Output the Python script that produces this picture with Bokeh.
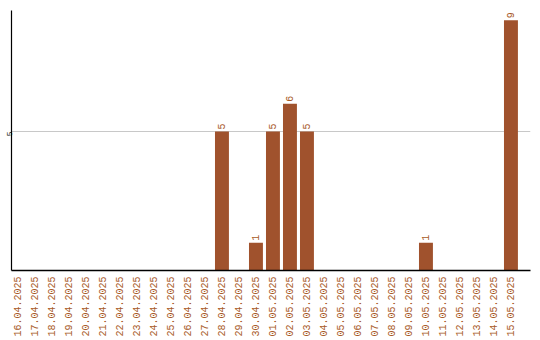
import math
from bokeh.plotting import figure
from bokeh.models import ColumnDataSource, Range1d, FixedTicker
from bokeh.core.properties import value
from bokeh.embed import file_html
from bokeh.resources import INLINE

dates = [
    "16.04.2025", "17.04.2025", "18.04.2025", "19.04.2025", "20.04.2025",
    "21.04.2025", "22.04.2025", "23.04.2025", "24.04.2025", "25.04.2025",
    "26.04.2025", "27.04.2025", "28.04.2025", "29.04.2025", "30.04.2025",
    "01.05.2025", "02.05.2025", "03.05.2025", "04.05.2025", "05.05.2025",
    "06.05.2025", "07.05.2025", "08.05.2025", "09.05.2025", "10.05.2025",
    "11.05.2025", "12.05.2025", "13.05.2025", "14.05.2025", "15.05.2025",
]
counts = [0, 0, 0, 0, 0, 0, 0, 0, 0, 0, 0, 0, 5, 0, 1,
          5, 6, 5, 0, 0, 0, 0, 0, 0, 1, 0, 0, 0, 0, 9]
y_ticks = [5]

BAR = "#a0522d"
LABEL = "#a85a28"
MONO = "Liberation Mono"

pos = list(range(len(dates)))
src = ColumnDataSource(dict(x=pos, top=counts))
nz = [i for i, c in enumerate(counts) if c > 0]
lbl = ColumnDataSource(dict(x=[pos[i] for i in nz],
                            y=[counts[i] for i in nz],
                            t=[str(counts[i]) for i in nz]))

p = figure(width=540, height=340, output_backend="svg", toolbar_location=None,
           x_range=Range1d(-0.38, 30.15), y_range=Range1d(0, 9.35),
           min_border_left=11, min_border_right=10, min_border_top=10,
           min_border_bottom=70)
p.frame_width = 519
p.frame_height = 260
p.outline_line_color = None
p.background_fill_color = "white"

p.vbar(x="x", top="top", width=0.82, source=src, fill_color=BAR,
       line_color=None)
p.text(x="x", y="y", text="t", source=lbl, angle=math.pi / 2,
       text_align="left", text_baseline="middle", y_offset=-2,
       text_color=LABEL, text_font=value(MONO), text_font_size="10px")

p.xgrid.grid_line_color = None
p.ygrid.ticker = FixedTicker(ticks=y_ticks)
p.ygrid.grid_line_color = "#c8c8c8"

xa = p.xaxis[0]
xa.ticker = FixedTicker(ticks=pos)
xa.major_label_overrides = {i: d for i, d in zip(pos, dates)}
xa.major_label_orientation = math.pi / 2
xa.major_label_text_color = LABEL
xa.major_label_text_font = MONO
xa.major_label_text_font_size = "10px"
xa.major_label_standoff = 6
xa.major_tick_out = 0
xa.major_tick_in = 0
xa.minor_tick_out = 0
xa.minor_tick_in = 0
xa.axis_line_color = "black"
xa.axis_line_width = 1.5

ya = p.yaxis[0]
ya.ticker = FixedTicker(ticks=y_ticks)
ya.major_label_orientation = math.pi / 2
ya.major_label_text_font = MONO
ya.major_label_text_font_size = "8px"
ya.major_label_text_color = "black"
ya.major_label_standoff = 2
ya.major_tick_out = 0
ya.major_tick_in = 0
ya.minor_tick_out = 0
ya.minor_tick_in = 0
ya.axis_line_color = "black"
ya.axis_line_width = 1.2

open("out.html", "w").write(file_html(p, INLINE))
